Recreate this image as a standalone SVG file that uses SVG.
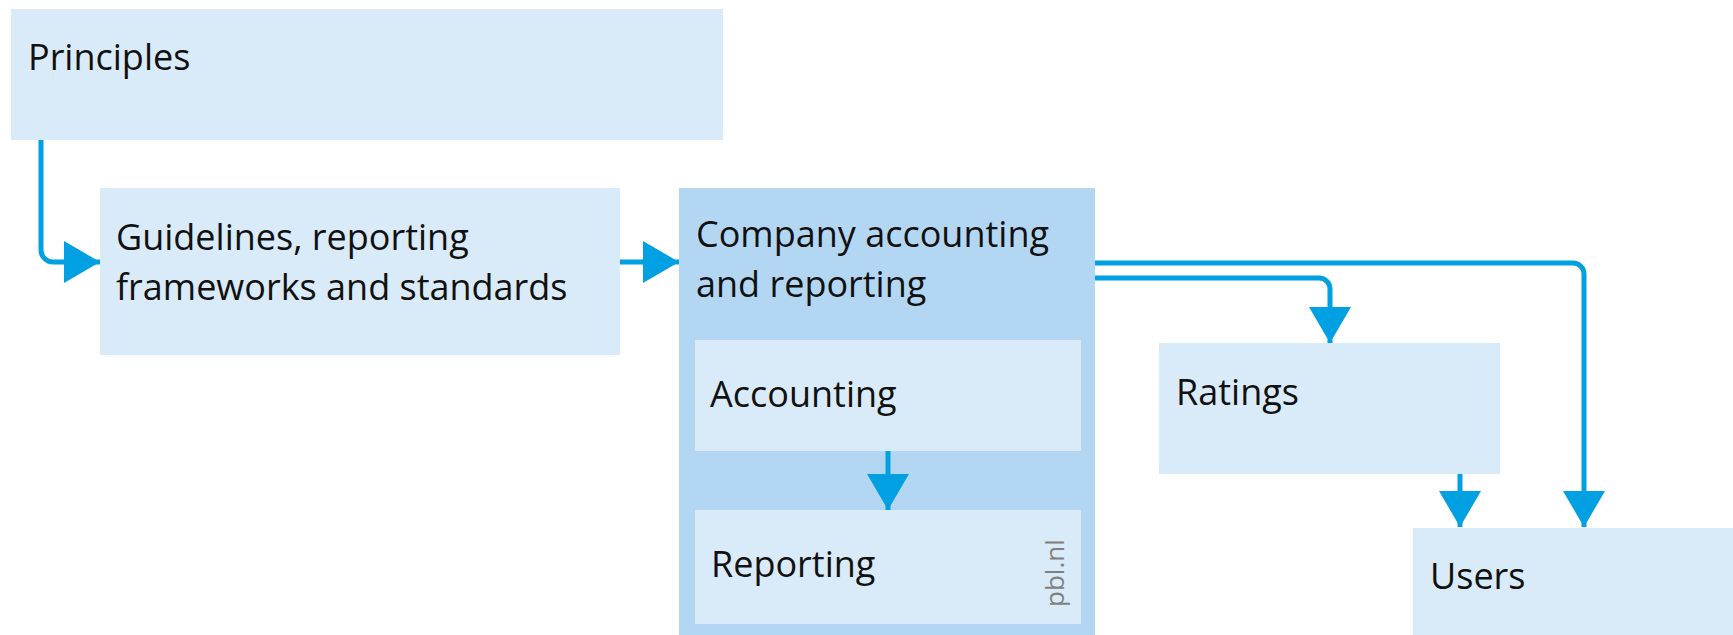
<svg xmlns="http://www.w3.org/2000/svg" width="1733" height="635" viewBox="0 0 1733 635">
<style>
.box{fill:#d9ebf9}
.outer{fill:#b3d7f3}
.lbl{font-family:"Open Sans","Noto Sans",sans-serif;font-size:36px;fill:#111}
.wm{font-family:"Open Sans","Noto Sans",sans-serif;font-size:26px;fill:#7f7f7f}
.conn{fill:none;stroke:#00a0e2;stroke-width:5}
</style>
<defs>
<marker id="ah" viewBox="0 0 36 42" markerWidth="36" markerHeight="42" refX="36" refY="21" orient="auto" markerUnits="userSpaceOnUse">
<path d="M0,0 L36,21 L0,42 Z" fill="#00a0e2"/>
</marker>
</defs>
<rect width="1733" height="635" fill="#fff"/>
<g id="principles">
<rect class="box" x="11" y="9" width="712" height="131"/>
<text class="lbl" x="28" y="70">Principles</text>
</g>
<g id="guidelines">
<rect class="box" x="100" y="188" width="520" height="167"/>
<text class="lbl" x="116" y="250">Guidelines, reporting</text>
<text class="lbl" x="116" y="300">frameworks and standards</text>
</g>
<g id="company">
<rect class="outer" x="679" y="188" width="416" height="447"/>
<text class="lbl" x="696" y="247">Company accounting</text>
<text class="lbl" x="696" y="297">and reporting</text>
</g>
<g id="accounting">
<rect class="box" x="695" y="340" width="386" height="111"/>
<text class="lbl" x="710" y="407">Accounting</text>
</g>
<g id="reporting">
<rect class="box" x="695" y="510" width="386" height="114"/>
<text class="lbl" x="711" y="577">Reporting</text>
<text class="wm" transform="translate(1064,607) rotate(-90)">pbl.nl</text>
</g>
<g id="ratings">
<rect class="box" x="1159" y="343" width="341" height="131"/>
<text class="lbl" x="1176" y="405">Ratings</text>
</g>
<g id="users">
<rect class="box" x="1413" y="528" width="320" height="107"/>
<text class="lbl" x="1430" y="589">Users</text>
</g>
<g id="connectors">
<path class="conn" d="M41,140 V250 A12,12 0 0 0 53,262 H100" marker-end="url(#ah)"/>
<path class="conn" d="M620,262 H679" marker-end="url(#ah)"/>
<path class="conn" d="M888,451 V510" marker-end="url(#ah)"/>
<path class="conn" d="M1095,278 H1319 A11,11 0 0 1 1330,289 V343" marker-end="url(#ah)"/>
<path class="conn" d="M1095,263 H1573 A11,11 0 0 1 1584,274 V527" marker-end="url(#ah)"/>
<path class="conn" d="M1460,474 V527" marker-end="url(#ah)"/>
</g>
</svg>
